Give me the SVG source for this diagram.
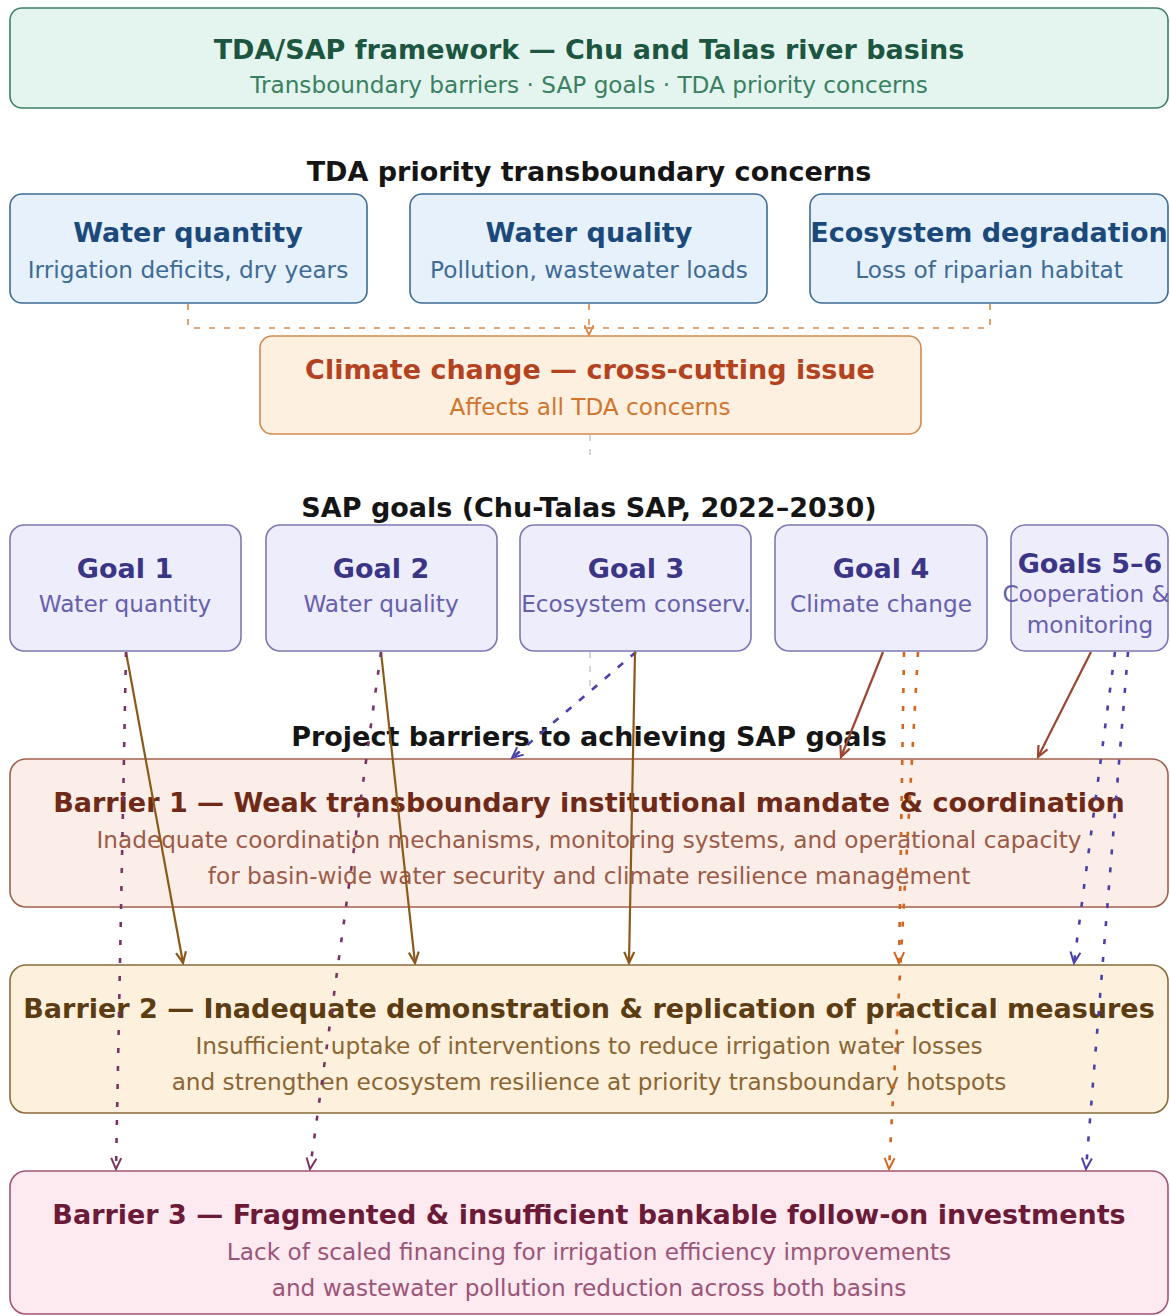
<svg xmlns="http://www.w3.org/2000/svg" width="1170" height="1316" viewBox="0 0 1170 1316">
<style>
text{font-family:"DejaVu Sans","Liberation Sans",sans-serif;text-anchor:middle}
.t{font-weight:bold;font-size:27px}
.s{font-size:23.2px}
.h{font-weight:bold;font-size:27px;fill:#151515}
.box{stroke-width:1.6}
.hdr rect{fill:#e3f5ee;stroke:#3d7f63}
.hdr .t{fill:#1d5640}.hdr .s{fill:#3a8063}
.con rect{fill:#e6f1fb;stroke:#3e6c96}
.con .t{fill:#1b4a7a}.con .s{fill:#3f6b95}
.clim rect{fill:#fdf0e1;stroke:#cf8a4e}
.clim .t{fill:#b3421f}.clim .s{fill:#d0762e}
.goal rect{fill:#eeedfc;stroke:#7d78b3}
.goal .t{fill:#3b3585}.goal .s{fill:#6660ac}
.b1 rect{fill:#fbede7;stroke:#a0614c}
.b1 .t{fill:#6e2a17}.b1 .s{fill:#9b5b48}
.b2 rect{fill:#fdf0dd;stroke:#8a6b3b}
.b2 .t{fill:#5c3c12}.b2 .s{fill:#8b6634}
.b3 rect{fill:#fde9f0;stroke:#a45473}
.b3 .t{fill:#6b1b38}.b3 .s{fill:#9b5577}
.c{fill:none}
.brown{stroke:#8b5a1a;stroke-width:2.2}
.red{stroke:#9c4530;stroke-width:2.2}
.maroon{stroke:#7b3366;stroke-width:2.6;stroke-dasharray:5 13}
.orange{stroke:#d4651e;stroke-width:2.6;stroke-dasharray:5 13}
.blue{stroke:#4b40a8;stroke-width:2.6;stroke-dasharray:5 13}
.blued{stroke:#4b40a8;stroke-width:2.6;stroke-dasharray:7 10}
.cons{stroke:#d98a4a;stroke-width:1.6;stroke-dasharray:6 9}
.faint{stroke:#c9c9d3;stroke-width:1.6;stroke-dasharray:6 8}
</style>
<defs>
<marker id="mBrown" viewBox="0 0 14 14" refX="12" refY="7" markerWidth="14" markerHeight="14" markerUnits="userSpaceOnUse" orient="auto"><path d="M1,2 L12,7 L1,12" fill="none" stroke="#8b5a1a" stroke-width="2.2"/></marker>
<marker id="mRed" viewBox="0 0 14 14" refX="12" refY="7" markerWidth="14" markerHeight="14" markerUnits="userSpaceOnUse" orient="auto"><path d="M1,2 L12,7 L1,12" fill="none" stroke="#9c4530" stroke-width="2.2"/></marker>
<marker id="mMaroon" viewBox="0 0 14 14" refX="12" refY="7" markerWidth="14" markerHeight="14" markerUnits="userSpaceOnUse" orient="auto"><path d="M1,2 L12,7 L1,12" fill="none" stroke="#7b3366" stroke-width="2"/></marker>
<marker id="mOrange" viewBox="0 0 14 14" refX="12" refY="7" markerWidth="14" markerHeight="14" markerUnits="userSpaceOnUse" orient="auto"><path d="M1,2 L12,7 L1,12" fill="none" stroke="#d4651e" stroke-width="2"/></marker>
<marker id="mBlue" viewBox="0 0 14 14" refX="12" refY="7" markerWidth="14" markerHeight="14" markerUnits="userSpaceOnUse" orient="auto"><path d="M1,2 L12,7 L1,12" fill="none" stroke="#4b40a8" stroke-width="2"/></marker>
<marker id="mCons" viewBox="0 0 14 14" refX="12" refY="7" markerWidth="12" markerHeight="12" markerUnits="userSpaceOnUse" orient="auto"><path d="M1,2 L12,7 L1,12" fill="none" stroke="#d98a4a" stroke-width="1.6"/></marker>
</defs>

<g id="header" class="hdr">
<rect class="box" x="10" y="8" width="1158" height="100" rx="12"/>
<text class="t" x="589" y="59">TDA/SAP framework — Chu and Talas river basins</text>
<text class="s" x="589" y="93">Transboundary barriers · SAP goals · TDA priority concerns</text>
</g>

<text id="hdr-tda" class="h" x="589" y="181">TDA priority transboundary concerns</text>
<text id="hdr-sap" class="h" x="589" y="517">SAP goals (Chu-Talas SAP, 2022–2030)</text>
<text id="hdr-bar" class="h" x="589" y="746">Project barriers to achieving SAP goals</text>

<g id="concern-quantity" class="con">
<rect class="box" x="10" y="194" width="357" height="109" rx="12"/>
<text class="t" x="188" y="242">Water quantity</text>
<text class="s" x="188" y="278">Irrigation deficits, dry years</text>
</g>
<g id="concern-quality" class="con">
<rect class="box" x="410" y="194" width="357" height="109" rx="12"/>
<text class="t" x="589" y="242">Water quality</text>
<text class="s" x="589" y="278">Pollution, wastewater loads</text>
</g>
<g id="concern-ecosystem" class="con">
<rect class="box" x="810" y="194" width="358" height="109" rx="12"/>
<text class="t" x="989" y="242">Ecosystem degradation</text>
<text class="s" x="989" y="278">Loss of riparian habitat</text>
</g>

<g id="climate" class="clim">
<rect class="box" x="260" y="336" width="661" height="98" rx="12"/>
<text class="t" x="590" y="379">Climate change — cross-cutting issue</text>
<text class="s" x="590" y="415">Affects all TDA concerns</text>
</g>

<g id="goal1" class="goal">
<rect class="box" x="10" y="525" width="231" height="126" rx="14"/>
<text class="t" x="125" y="578">Goal 1</text>
<text class="s" x="125" y="612">Water quantity</text>
</g>
<g id="goal2" class="goal">
<rect class="box" x="266" y="525" width="231" height="126" rx="14"/>
<text class="t" x="381" y="578">Goal 2</text>
<text class="s" x="381" y="612">Water quality</text>
</g>
<g id="goal3" class="goal">
<rect class="box" x="520" y="525" width="231" height="126" rx="14"/>
<text class="t" x="636" y="578">Goal 3</text>
<text class="s" x="636" y="612">Ecosystem conserv.</text>
</g>
<g id="goal4" class="goal">
<rect class="box" x="775" y="525" width="212" height="126" rx="14"/>
<text class="t" x="881" y="578">Goal 4</text>
<text class="s" x="881" y="612">Climate change</text>
</g>
<g id="goal56" class="goal">
<rect class="box" x="1011" y="525" width="157" height="126" rx="14"/>
<text class="t" x="1090" y="573">Goals 5–6</text>
<text class="s" x="1086" y="602">Cooperation &amp;</text>
<text class="s" x="1090" y="633">monitoring</text>
</g>

<g id="barrier1" class="b1">
<rect class="box" x="10" y="759" width="1158" height="148" rx="16"/>
<text class="t" x="589" y="812">Barrier 1 — Weak transboundary institutional mandate &amp; coordination</text>
<text class="s" x="589" y="848">Inadequate coordination mechanisms, monitoring systems, and operational capacity</text>
<text class="s" x="589" y="884">for basin-wide water security and climate resilience management</text>
</g>
<g id="barrier2" class="b2">
<rect class="box" x="10" y="965" width="1158" height="148" rx="16"/>
<text class="t" x="589" y="1018">Barrier 2 — Inadequate demonstration &amp; replication of practical measures</text>
<text class="s" x="589" y="1054">Insufficient uptake of interventions to reduce irrigation water losses</text>
<text class="s" x="589" y="1090">and strengthen ecosystem resilience at priority transboundary hotspots</text>
</g>
<g id="barrier3" class="b3">
<rect class="box" x="10" y="1171" width="1158" height="143" rx="16"/>
<text class="t" x="589" y="1224">Barrier 3 — Fragmented &amp; insufficient bankable follow-on investments</text>
<text class="s" x="589" y="1260">Lack of scaled financing for irrigation efficiency improvements</text>
<text class="s" x="589" y="1296">and wastewater pollution reduction across both basins</text>
</g>

<g id="connectors" class="c">
<path class="cons" d="M188,304 V328 H589 V335" marker-end="url(#mCons)"/>
<path class="cons" d="M589,304 V335" marker-end="url(#mCons)"/>
<path class="cons" d="M990,304 V328 H589 V335" marker-end="url(#mCons)"/>
<path class="faint" d="M590,435 V463"/>
<path class="faint" d="M590,652 V690"/>

<path class="brown" d="M126,652 L183,963" marker-end="url(#mBrown)"/>
<path class="maroon" d="M126,652 L116,1169" marker-end="url(#mMaroon)"/>
<path class="brown" d="M381,652 L415,963" marker-end="url(#mBrown)"/>
<path class="maroon" d="M381,652 L310,1169" marker-end="url(#mMaroon)"/>
<path class="blued" d="M636,652 L512,758" marker-end="url(#mBlue)"/>
<path class="brown" d="M635,652 L629,963" marker-end="url(#mBrown)"/>
<path class="red" d="M883,652 L841,757" marker-end="url(#mRed)"/>
<path class="orange" d="M904,652 L899,963" marker-end="url(#mOrange)"/>
<path class="orange" d="M918,652 L889,1169" marker-end="url(#mOrange)"/>
<path class="red" d="M1091,652 L1038,757" marker-end="url(#mRed)"/>
<path class="blue" d="M1115,652 L1074,963" marker-end="url(#mBlue)"/>
<path class="blue" d="M1128,652 L1086,1169" marker-end="url(#mBlue)"/>
</g>
</svg>
